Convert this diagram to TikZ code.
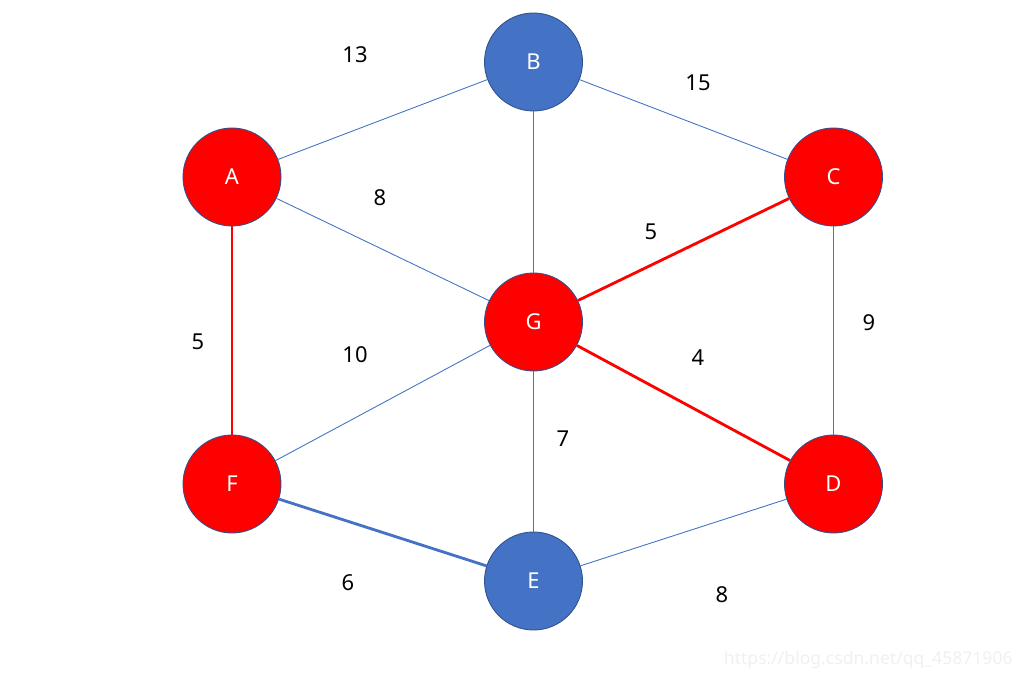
\documentclass[tikz,border=0pt]{standalone}
\usepackage{fontspec}
\setmainfont{Noto Sans}
\usetikzlibrary{positioning}
\definecolor{nodeblue}{HTML}{4472C4}
\definecolor{rimblue}{HTML}{2F528F}
\definecolor{hotred}{HTML}{FF0000}
\begin{document}
\begin{tikzpicture}[
    vertex/.style={circle, draw=rimblue, line width=0.5pt, minimum size=1.96cm,
                   inner sep=0pt, text=white, font=\fontsize{12.5}{15}\selectfont},
    picked/.style={vertex, fill=hotred},
    plain/.style={vertex, fill=nodeblue},
    weight/.style={font=\fontsize{12.5}{15}\selectfont, inner sep=1pt},
    thinedge/.style={draw=nodeblue, line width=0.5pt},
    rededge/.style={draw=hotred, line width=1.6pt},
    blueedge/.style={draw=nodeblue, line width=1.6pt}
  ]
  \useasboundingbox (0,0) rectangle (20.46,13.56);

  % vertices
  \node[plain]  (B) at (10.67,12.32) {B};
  \node[picked] (A) at (4.64,10.02)  {A};
  \node[picked] (C) at (16.67,10.02) {C};
  \node[picked] (G) at (10.67,7.12)  {G};
  \node[picked] (F) at (4.64,3.88)   {F};
  \node[picked] (D) at (16.67,3.88)  {D};
  \node[plain]  (E) at (10.67,1.94)  {E};

  % edges
  \draw[thinedge] (A) -- (B);
  \draw[thinedge] (B) -- (C);
  \draw[thinedge] (B) -- (G);
  \draw[thinedge] (A) -- (G);
  \draw[thinedge] (F) -- (G);
  \draw[thinedge] (G) -- (E);
  \draw[thinedge] (C) -- (D);
  \draw[thinedge] (E) -- (D);
  \draw[rededge] (A) -- (F);
  \draw[rededge] (G) -- (C);
  \draw[rededge] (G) -- (D);
  \draw[blueedge] (F) -- (E);

  % weights
  \node[weight] (wAB) at (7.10,12.46) {13};
  \node[weight] (wBC) at (13.96,11.90) {15};
  \node[weight] (wAG) at (7.60,9.60) {8};
  \node[weight] (wCG) at (13.02,8.92) {5};
  \node[weight] (wAF) at (3.96,6.72) {5};
  \node[weight] (wFG) at (7.10,6.46) {10};
  \node[weight] (wCD) at (17.38,7.10) {9};
  \node[weight] (wGD) at (13.96,6.40) {4};
  \node[weight] (wGE) at (11.26,4.78) {7};
  \node[weight] (wFE) at (6.96,1.90) {6};
  \node[weight] (wED) at (14.44,1.66) {8};

  % watermark
  \node[font=\fontsize{10}{12}\selectfont, text=gray!12, anchor=east, inner sep=0pt]
    (mark) at (20.26,0.36) {https://blog.csdn.net/qq\_45871906};
\end{tikzpicture}
\end{document}
